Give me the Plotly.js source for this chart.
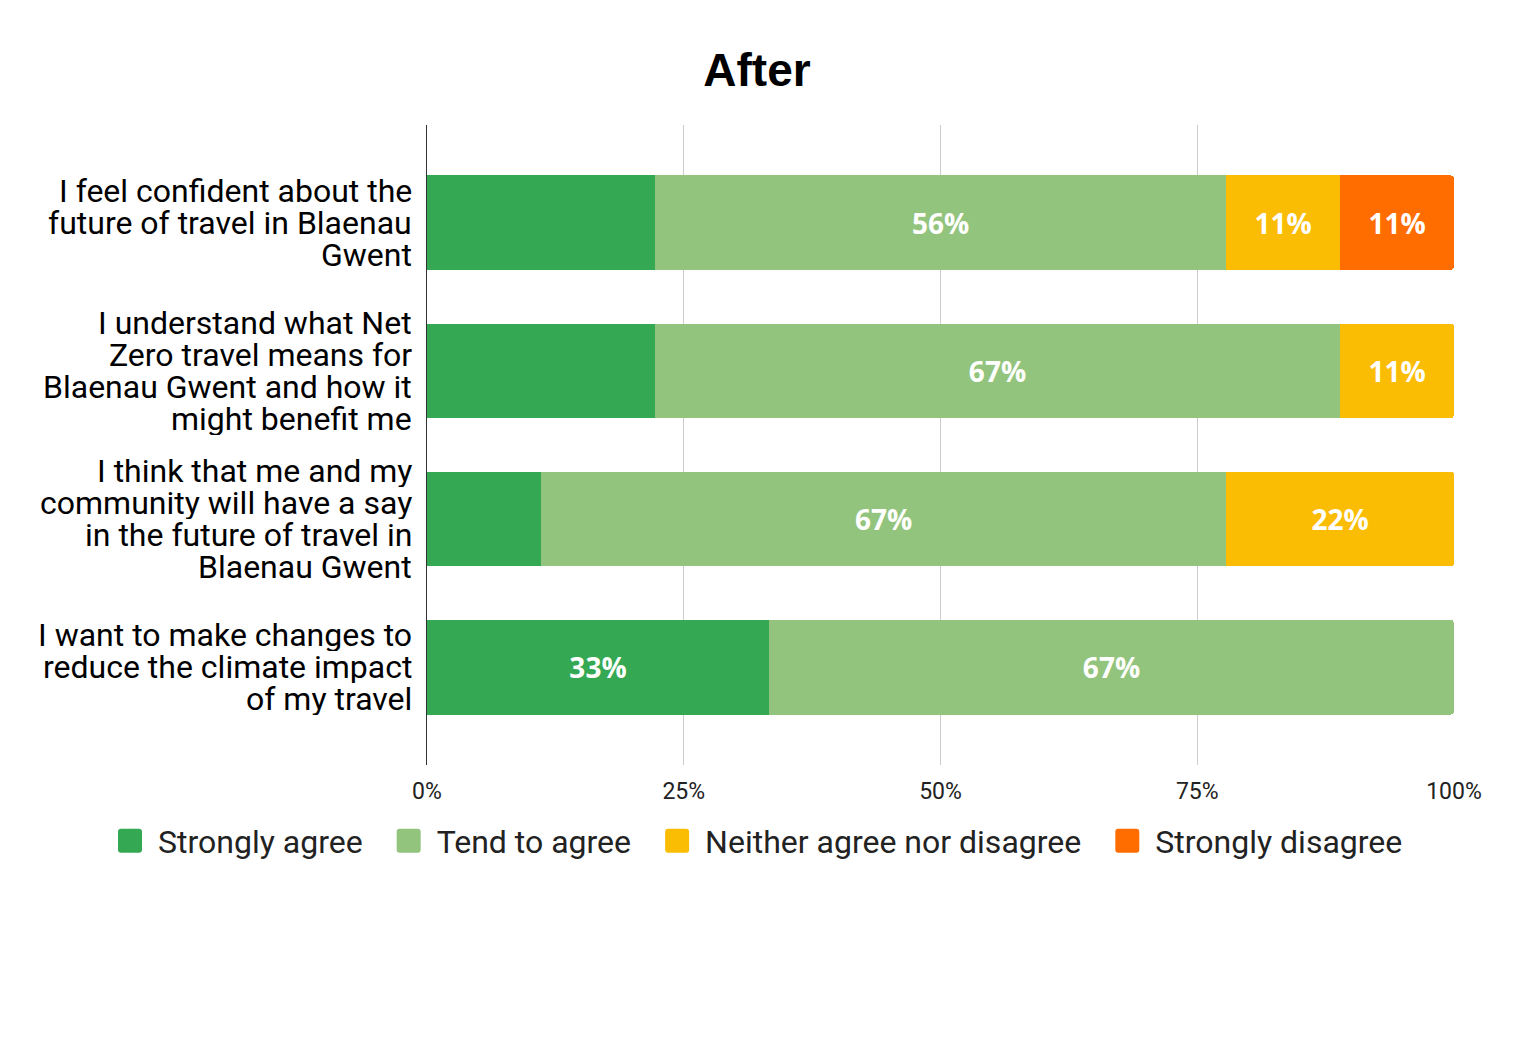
<!DOCTYPE html>
<html><head><meta charset="utf-8">
<script src="https://cdn.plot.ly/plotly-3.0.1.min.js"></script>
<style>html,body{margin:0;padding:0;background:#fff}#chart{width:1514px;height:1050px}</style>
</head><body><div id="chart"></div>
<script>
const categories = [
  "I feel confident about the<br>future of travel in Blaenau<br>Gwent",
  "I understand what Net<br>Zero travel means for<br>Blaenau Gwent and how it<br>might benefit me",
  "I think that me and my<br>community will have a say<br>in the future of travel in<br>Blaenau Gwent",
  "I want to make changes to<br>reduce the climate impact<br>of my travel"
];
const seriesNames = ["Strongly agree", "Tend to agree", "Neither agree nor disagree", "Strongly disagree"];
const stronglyAgree    = [22.2, 22.2, 11.1, 33.3];
const tendToAgree      = [55.6, 66.7, 66.7, 66.7];
const neitherAgree     = [11.1, 11.1, 22.2, 0];
const stronglyDisagree = [11.1, 0, 0, 0];
// which segments show a value label in the original
const stronglyAgreeShown    = [false, false, false, true];
const tendToAgreeShown      = [true, true, true, true];
const neitherAgreeShown     = [true, true, true, false];
const stronglyDisagreeShown = [true, false, false, false];
const xTickValues = [0, 25, 50, 75, 100];

const colors = ["#34a853", "#93c47d", "#fbbc04", "#ff6d01"];
const values = [stronglyAgree, tendToAgree, neitherAgree, stronglyDisagree];
const shown = [stronglyAgreeShown, tendToAgreeShown, neitherAgreeShown, stronglyDisagreeShown];

const traces = seriesNames.map((name, k) => ({
  type: "bar",
  orientation: "h",
  name: k < seriesNames.length - 1 ? name + "\u2009\u2009" : name,
  y: categories.map((c, i) => i),
  x: values[k],
  text: values[k].map((v, i) => shown[k][i] ? Math.round(v) + "%" : ""),
  textposition: "inside",
  insidetextanchor: "middle",
  textangle: 0,
  textfont: {family: "Open Sans", size: 28, color: "#ffffff", weight: 700},
  constraintext: "none",
  marker: {color: colors[k], line: {width: 0}},
  hoverinfo: "skip"
}));

const annotations = [];
categories.forEach((cat, i) => {
  const lines = cat.split("<br>");
  const n = lines.length;
  lines.forEach((line, j) => {
    annotations.push({
      xref: "paper", yref: "y", x: 0, y: i,
      xanchor: "right", yanchor: "middle",
      xshift: -14, yshift: ((n - 1) / 2 - j) * 32,
      height: 32, valign: "middle",
      text: line, showarrow: false, borderpad: 0,
      font: {family: "Roboto", size: 32, color: "#000000"}
    });
  });
});

const layout = {
  width: 1514, height: 1050,
  paper_bgcolor: "#ffffff", plot_bgcolor: "#ffffff",
  margin: {l: 427, r: 60, t: 125, b: 285},
  barmode: "stack",
  bargap: 0.36,
  barcornerradius: 4,
  title: {
    text: "<b>After</b>",
    font: {family: "Liberation Sans, Arial, sans-serif", size: 46, color: "#000000"},
    x: 0.5, xref: "container", xanchor: "center",
    y: 1 - 70 / 1050, yref: "container", yanchor: "middle"
  },
  xaxis: {
    range: [0, 100],
    tickvals: xTickValues,
    ticktext: xTickValues.map(v => v + "%"),
    showgrid: true, gridcolor: "#cccccc", gridwidth: 1.3,
    zeroline: false, showline: false,
    ticks: "", ticklabelstandoff: 10,
    tickfont: {family: "Roboto", size: 23, color: "#222222"},
    fixedrange: true
  },
  yaxis: {
    range: [3.66, -0.66],
    showticklabels: false,
    showgrid: false, zeroline: false,
    showline: true, linecolor: "#333333", linewidth: 1.5,
    ticks: "", fixedrange: true
  },
  showlegend: true,
  legend: {
    orientation: "h",
    xref: "paper", yref: "paper",
    x: (102 - 427) / 1027, xanchor: "left",
    y: -(841 - 765) / 640, yanchor: "middle",
    itemwidth: 46,
    font: {family: "Roboto", size: 32, color: "#222222"},
    traceorder: "normal",
    itemclick: false, itemdoubleclick: false
  },
  annotations: annotations
};

Plotly.newPlot("chart", traces, layout, {displayModeBar: false, staticPlot: true}).then(gd => {
  // enlarge legend swatches to match the reference's 24px rounded squares
  gd.querySelectorAll(".legend .legendpoints path").forEach(p => {
    p.setAttribute("d", "M12,9V-9A3,3 0 0 0 9,-12H-9A3,3 0 0 0 -12,-9V9A3,3 0 0 0 -9,12H9A3,3 0 0 0 12,9Z");
  });
});
</script>
</body></html>
